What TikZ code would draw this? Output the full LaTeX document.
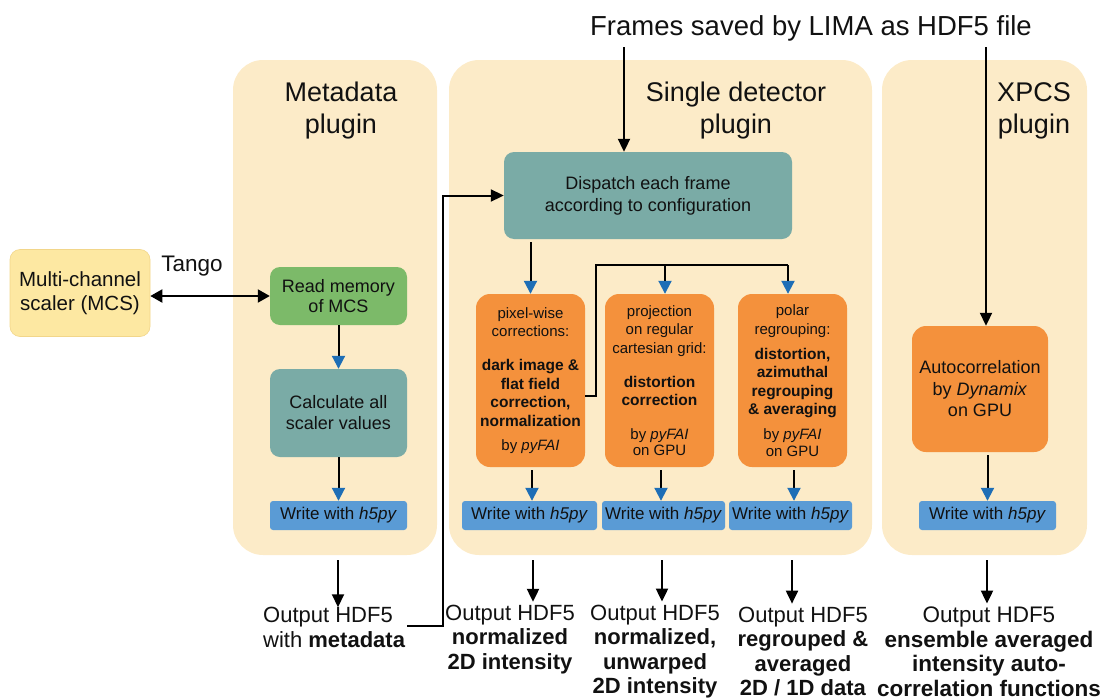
\documentclass[tikz,border=0pt]{standalone}
\usepackage{fontspec}
\setmainfont{Liberation Sans}
\usetikzlibrary{arrows.meta,calc}
\definecolor{panelc}{HTML}{FCEBC8}
\definecolor{mcsc}{HTML}{FDE8A2}
\definecolor{mcsb}{HTML}{F2D68A}
\definecolor{greenc}{HTML}{7CBA69}
\definecolor{tealc}{HTML}{7AABA6}
\definecolor{orangec}{HTML}{F4913C}
\definecolor{bluec}{HTML}{5A9BD5}
\definecolor{arrowblue}{HTML}{1E6EB6}
\definecolor{inkc}{HTML}{111111}
\newcommand\myfs[2]{\fontsize{#1}{#2}\selectfont}
\newcommand\bl[1]{{\fontsize{15.5}{18.5}\selectfont\bfseries #1}}
\begin{document}
\begin{tikzpicture}[x=1pt,y=-1pt,
  every node/.style={text=inkc, inner sep=0pt},
  panel/.style={fill=panelc, draw=none, rounded corners=30pt, minimum height=495pt},
  ptitle/.style={align=center, font=\myfs{27}{32}},
  box/.style={draw=none, rounded corners=10pt, align=center},
  obox/.style={fill=orangec, draw=none, rounded corners=14pt, align=center, minimum height=173pt, minimum width=109pt, font=\myfs{15}{18.5}},
  wbox/.style={fill=bluec, draw=none, rounded corners=3pt, minimum height=29pt, font=\myfs{17}{20}},
  outl/.style={align=center, font=\myfs{22}{24.5}},
  conn/.style={line width=2pt, draw=black},
  barrow/.style={conn, -{Triangle[length=13pt,width=13pt,color=arrowblue]}},
  karrow/.style={conn, -{Triangle[length=13pt,width=12pt]}},
  dkarrow/.style={conn, {Triangle[length=12pt,width=13pt]}-{Triangle[length=12pt,width=13pt]}}
]
\useasboundingbox (0,0) rectangle (1101,699);

% panels
\node[panel, minimum width=204pt] (pM) at (335,307.5) {};
\node[panel, minimum width=423pt] (pS) at (660.5,307.5) {};
\node[panel, minimum width=205pt] (pX) at (984.5,307.5) {};

\node[ptitle] (tM) at (341,111) {Metadata\\plugin};
\node[ptitle] (tS) at (736,111) {Single detector\\plugin};
\node[ptitle] (tX) at (1034,111) {XPCS\\plugin};

\node[font=\myfs{27.5}{32}] (frames) at (811,28) {Frames saved by LIMA as HDF5 file};

% left
\node[box, fill=mcsc, draw=mcsb, line width=0.6pt, minimum width=140pt, minimum height=87pt, font=\myfs{20.5}{24.5}] (mcs) at (80,293) {Multi-channel\\scaler (MCS)};
\node[font=\myfs{22.5}{26}] (tango) at (192,266) {Tango};

% metadata plugin
\node[box, fill=greenc, minimum width=137pt, minimum height=58pt, font=\myfs{18}{20.5}] (read) at (338.5,296) {Read memory\\of MCS};
\node[box, fill=tealc, minimum width=137pt, minimum height=88pt, font=\myfs{18}{21}] (calc) at (338.5,413) {Calculate all\\scaler values};
\node[wbox, minimum width=137pt] (wM) at (338.5,515.5) {Write with \textit{h5py}};

% single detector plugin
\node[box, fill=tealc, minimum width=288pt, minimum height=87pt, font=\myfs{18}{22}] (dispatch) at (648,195.5) {Dispatch each frame\\according to configuration};

\node[obox] (pix) at (530.5,380.5) {pixel-wise\\corrections:\\[15.5pt]\bl{dark image \&}\\\bl{flat field}\\\bl{correction,}\\\bl{normalization}\\[6pt]by \textit{pyFAI}};
\node[obox] (proj) at (659.5,380.5) {projection\\on regular\\cartesian grid:\\[15.5pt]\bl{distortion}\\\bl{correction}\\[15pt]by \textit{pyFAI}\\[-2pt]on GPU};
\node[obox] (polar) at (792.5,380.5) {polar\\regrouping:\\[6.5pt]\bl{distortion,}\\\bl{azimuthal}\\\bl{regrouping}\\\bl{\& averaging}\\[6.5pt]by \textit{pyFAI}\\[-2pt]on GPU};

\node[wbox, minimum width=135pt] (w1) at (529.5,515.5) {Write with \textit{h5py}};
\node[wbox, minimum width=123pt] (w2) at (663.5,515.5) {Write with \textit{h5py}};
\node[wbox, minimum width=123pt] (w3) at (790.5,515.5) {Write with \textit{h5py}};

% xpcs plugin
\node[box, fill=orangec, rounded corners=14pt, minimum width=136pt, minimum height=126pt, font=\myfs{18}{21.5}] (auto) at (980,389) {Autocorrelation\\by \textit{Dynamix}\\on GPU};
\node[wbox, minimum width=137pt] (wX) at (987.5,515.5) {Write with \textit{h5py}};

% outputs
\node[outl, anchor=west, align=left] (out1) at (263,627.5) {Output HDF5\\with \textbf{metadata}};
\node[outl] (out2) at (510,639.5) {Output HDF5\\\textbf{normalized}\\\textbf{2D intensity}};
\node[outl] (out3) at (655,651.5) {Output HDF5\\\textbf{normalized,}\\\textbf{unwarped}\\\textbf{2D intensity}};
\node[outl] (out4) at (803,651.5) {Output HDF5\\\textbf{regrouped \&}\\\textbf{averaged}\\\textbf{2D / 1D data}};
\node[outl, font=\myfs{22.5}{24.5}] (out5) at (989,651.5) {Output HDF5\\\textbf{ensemble averaged}\\\textbf{intensity auto-}\\\textbf{correlation functions}};

% coordinates
\coordinate (fA) at (624,47);
\coordinate (fB) at (986,47);
\coordinate (a1) at (338,560);
\coordinate (a2) at (533,560);
\coordinate (a3) at (662,560);
\coordinate (a4) at (792,560);
\coordinate (a5) at (987,560);
\coordinate (loopstart) at (407,626);
\coordinate (loopcorner) at (443,195.5);
\coordinate (brstart) at (585,396);
\coordinate (brtop) at (596,265);
\coordinate (brproj) at (665,265);
\coordinate (brpolar) at (788,265);

% connectors
\draw[dkarrow] (read.west -| mcs.east) -- (read.west);
\draw[barrow] (read.south) -- (calc.north);
\draw[barrow] (calc.south) -- (wM.north);

\draw[karrow] (fA) -- (fA |- dispatch.north);
\draw[karrow] (fB) -- (fB |- auto.north);

\draw[barrow] ([yshift=-3pt]pix.north |- dispatch.south) -- (pix.north);
\draw[conn] (brstart) -| (brtop) -- (brpolar);
\draw[barrow] (brproj) -- (brproj |- proj.north);
\draw[barrow] (brpolar) -- (brpolar |- polar.north);

\draw[barrow] ($(pix.south)+(1.5,3)$) -- ($(pix.south |- w1.north)+(1.5,0)$);
\draw[barrow] ($(proj.south)+(1.5,3)$) -- ($(proj.south |- w2.north)+(1.5,0)$);
\draw[barrow] ($(polar.south)+(1.5,3)$) -- ($(polar.south |- w3.north)+(1.5,0)$);
\draw[barrow] ($(auto.south -| wX.north)+(0,3)$) -- (wX.north);

\draw[karrow] (a1) -- (a1 |- out1.north);
\draw[karrow, shorten >=3pt] (a2) -- (a2 |- out2.north);
\draw[karrow, shorten >=3pt] (a3) -- (a3 |- out3.north);
\draw[karrow, shorten >=3pt] (a4) -- (a4 |- out4.north);
\draw[karrow, shorten >=3pt] (a5) -- (a5 |- out5.north);

\draw[karrow] (loopstart) -| (loopcorner) -- (dispatch.west);
\end{tikzpicture}
\end{document}
